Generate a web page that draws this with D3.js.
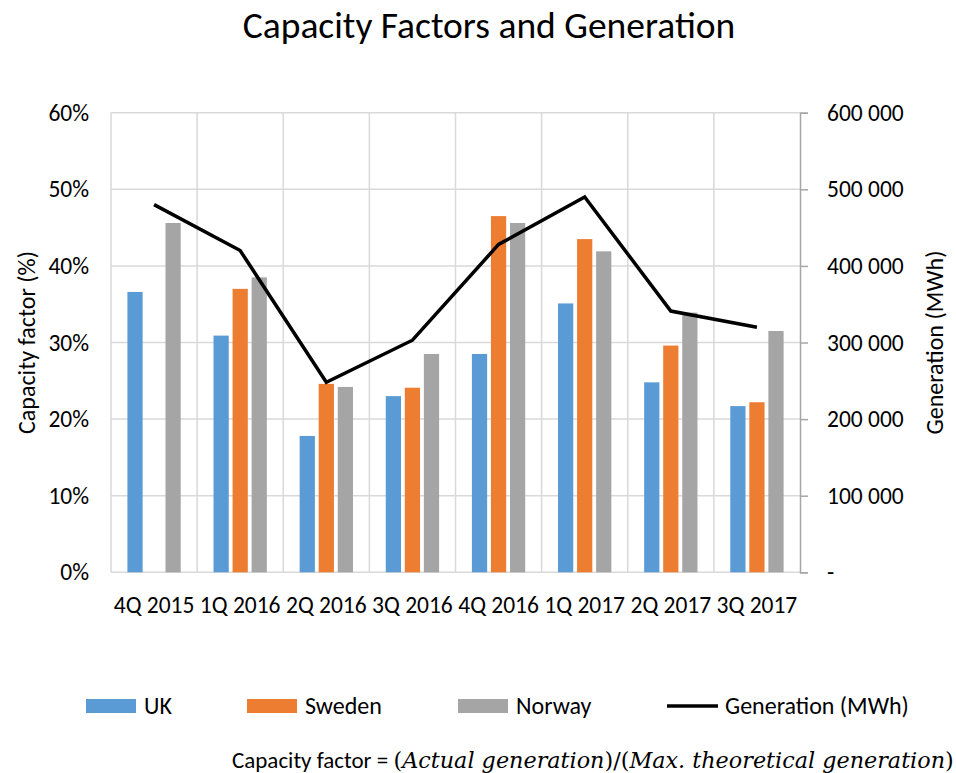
<!DOCTYPE html>
<html>
<head>
<meta charset="utf-8">
<script src="https://cdn.jsdelivr.net/npm/d3@7"></script>
<style>
  body { margin: 0; background: #fff; }
  svg { font-family: Carlito, Calibri, Lato, "Open Sans", sans-serif; }
</style>
</head>
<body>
<div class="chart"></div>
<script>
// data
const quarters = ["4Q 2015", "1Q 2016", "2Q 2016", "3Q 2016", "4Q 2016", "1Q 2017", "2Q 2017", "3Q 2017"];
const seriesNames = ["UK", "Sweden", "Norway"];
const ukCF = [0.366, 0.309, 0.178, 0.230, 0.285, 0.351, 0.248, 0.217];
const swedenCF = [0, 0.370, 0.246, 0.241, 0.465, 0.435, 0.296, 0.222];
const norwayCF = [0.456, 0.385, 0.242, 0.285, 0.456, 0.419, 0.339, 0.315];
const generation = [480000, 420000, 248000, 303000, 428000, 490000, 341000, 320000];
const leftTicks = [0, 0.1, 0.2, 0.3, 0.4, 0.5, 0.6];
const rightTicks = [0, 100000, 200000, 300000, 400000, 500000, 600000];

const colors = { UK: "#5b9bd5", Sweden: "#ed7d31", Norway: "#a5a5a5" };

const W = 956, H = 773;
const margin = { top: 112.7, right: 156, bottom: 200.7, left: 111 };
const width = W - margin.left - margin.right;
const height = H - margin.top - margin.bottom;
const labelFont = "Carlito, Calibri, Lato, sans-serif";
const fs = 23.5;

const rows = quarters.map((q, i) => ({
    q: q, UK: ukCF[i], Sweden: swedenCF[i], Norway: norwayCF[i], gen: generation[i]
}));

const svg = d3.select(".chart").append("svg")
    .attr("width", W)
    .attr("height", H);

const g = svg.append("g")
    .attr("transform", `translate(${margin.left},${margin.top})`);

// scales
const x = d3.scaleBand().domain(quarters).range([0, width]);
const x1 = d3.scaleBand().domain(seriesNames)
    .range([16.4, x.bandwidth() - 16.4]).paddingInner(0.2);
const y = d3.scaleLinear().domain([0, 0.6]).range([height, 0]);
const y2 = d3.scaleLinear().domain([0, 600000]).range([height, 0]);

const gridColor = "#d9d9d9";

// horizontal grid
g.append("g").selectAll("line").data(leftTicks).join("line")
    .attr("x1", 0).attr("x2", width)
    .attr("y1", d => y(d)).attr("y2", d => y(d))
    .attr("stroke", gridColor).attr("stroke-width", 1.5);

// vertical grid
g.append("g").selectAll("line").data(d3.range(quarters.length)).join("line")
    .attr("x1", i => x(quarters[i])).attr("x2", i => x(quarters[i]))
    .attr("y1", 0).attr("y2", height)
    .attr("stroke", gridColor).attr("stroke-width", 1.5);

// bars
const groups = g.append("g").selectAll("g").data(rows).join("g")
    .attr("transform", d => `translate(${x(d.q)},0)`);

groups.selectAll("rect")
    .data(d => seriesNames.map(s => ({ s: s, v: d[s] })))
    .join("rect")
    .attr("x", d => x1(d.s))
    .attr("width", x1.bandwidth())
    .attr("y", d => y(d.v))
    .attr("height", d => height - y(d.v))
    .attr("fill", d => colors[d.s]);

// right axis
const fmtGen = d => d === 0 ? "-" : d3.format(",")(d).replace(/,/g, " ");
const rightAxis = g.append("g")
    .attr("transform", `translate(${width},0)`)
    .call(d3.axisRight(y2).tickValues(rightTicks).tickSize(8).tickPadding(19).tickFormat(fmtGen));
rightAxis.select(".domain").attr("stroke", "#a6a6a6").attr("stroke-width", 1.5);
rightAxis.selectAll(".tick line").attr("stroke", "#a6a6a6").attr("stroke-width", 1.5);
rightAxis.selectAll("text").attr("font-size", fs).attr("fill", "#000").attr("font-family", labelFont);

// left axis labels
const leftAxis = g.append("g")
    .call(d3.axisLeft(y).tickValues(leftTicks).tickSize(0).tickPadding(22).tickFormat(d3.format(".0%")));
leftAxis.select(".domain").remove();
leftAxis.selectAll("text").attr("font-size", fs).attr("fill", "#000").attr("font-family", labelFont);

// bottom category labels
const bottomAxis = g.append("g")
    .attr("transform", `translate(0,${height})`)
    .call(d3.axisBottom(x).tickSize(0).tickPadding(24));
bottomAxis.select(".domain").remove();
bottomAxis.selectAll("text").attr("font-size", fs).attr("fill", "#000").attr("font-family", labelFont);

// generation line
const line = d3.line()
    .x(d => x(d.q) + x.bandwidth() / 2)
    .y(d => y2(d.gen));
g.append("path").datum(rows)
    .attr("d", line)
    .attr("fill", "none")
    .attr("stroke", "#000")
    .attr("stroke-width", 3.5)
    .attr("stroke-linejoin", "miter");

// title
svg.append("text")
    .attr("x", 489).attr("y", 38)
    .attr("text-anchor", "middle")
    .attr("font-size", 37.5)
    .text("Capacity Factors and Generation");

// axis titles
svg.append("text")
    .attr("transform", `translate(35,${margin.top + height / 2}) rotate(-90)`)
    .attr("text-anchor", "middle")
    .attr("font-size", 24)
    .text("Capacity factor (%)");

svg.append("text")
    .attr("transform", `translate(943,${margin.top + height / 2}) rotate(-90)`)
    .attr("text-anchor", "middle")
    .attr("font-size", 24)
    .text("Generation (MWh)");

// legend
const legendItems = [
    { name: "UK", x: 86, type: "rect", color: colors.UK },
    { name: "Sweden", x: 247, type: "rect", color: colors.Sweden },
    { name: "Norway", x: 458, type: "rect", color: colors.Norway },
    { name: "Generation (MWh)", x: 667, type: "line", color: "#000" }
];
const legend = svg.append("g").attr("transform", "translate(0,706)");
legendItems.forEach(it => {
    if (it.type === "rect") {
        legend.append("rect").attr("x", it.x).attr("y", -7).attr("width", 50).attr("height", 14).attr("fill", it.color);
    } else {
        legend.append("line").attr("x1", it.x).attr("x2", it.x + 51).attr("y1", 0).attr("y2", 0)
            .attr("stroke", it.color).attr("stroke-width", 3.5);
    }
    legend.append("text").attr("x", it.x + 58).attr("y", 8).attr("font-size", 24).text(it.name);
});

// footnote formula
const foot = svg.append("text").attr("x", 232).attr("y", 768).attr("font-size", 23);
foot.append("tspan").text("Capacity factor = ");
const mathFont = "'DejaVu Serif', 'Liberation Serif', serif";
const mathSize = 22.3;
foot.append("tspan").attr("font-family", mathFont).attr("font-size", mathSize).text("(");
foot.append("tspan").attr("font-family", mathFont).attr("font-size", mathSize).attr("font-style", "italic").text("Actual generation");
foot.append("tspan").attr("font-family", mathFont).attr("font-size", mathSize).text(")/(");
foot.append("tspan").attr("font-family", mathFont).attr("font-size", mathSize).attr("font-style", "italic").text("Max. theoretical generation");
foot.append("tspan").attr("font-family", mathFont).attr("font-size", mathSize).text(")");
</script>
</body>
</html>
